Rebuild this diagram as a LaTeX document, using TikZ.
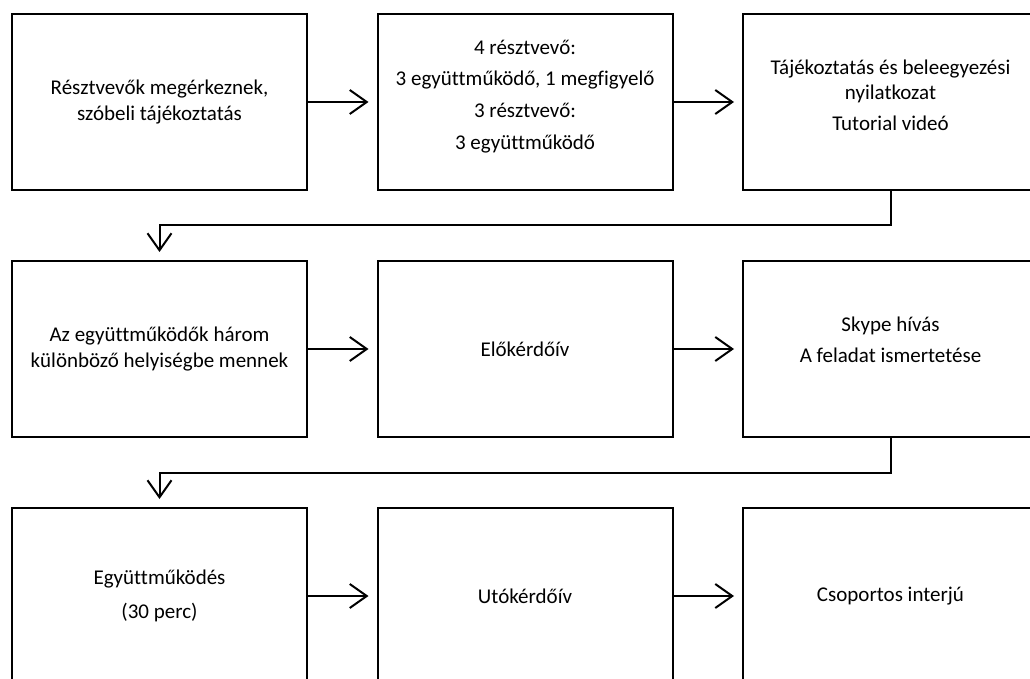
\documentclass[tikz,border=0pt]{standalone}
\usepackage{fontspec}
\setmainfont{Carlito}[Ligatures={NoCommon,NoContextual,NoRequired}]
\usetikzlibrary{arrows.meta,positioning,calc}
\tikzset{
  >={Straight Barb[length=17pt,width=24pt]},
  box/.style={draw=black,line width=2pt,minimum width=295pt,minimum height=176pt,
              align=center,inner sep=4pt,font=\fontsize{21}{25.6}\selectfont},
  ar/.style={->,line width=2pt,shorten >=8pt},
}

\begin{document}
\begin{tikzpicture}[node distance=69pt and 68.5pt]
\useasboundingbox (-159.5pt,102pt) rectangle (870.5pt,-577pt);
% first row
\node[box] (arrive) {Résztvevők megérkeznek,\\szóbeli tájékoztatás};
\node[box,right=of arrive,text depth=15pt] (groups) {4 résztvevő:\\[6pt]3 együttműködő, 1 megfigyelő\\[6pt]3 résztvevő:\\[6pt]3 együttműködő};
\node[box,right=of groups,text depth=14pt] (consent) {Tájékoztatás és beleegyezési\\nyilatkozat\\[5pt]Tutorial videó};
% second row
\node[box,below=of arrive] (rooms) {Az együttműködők három\\különböző helyiségbe mennek};
\node[box,right=of rooms] (pre) {Előkérdőív};
\node[box,right=of pre,text depth=18pt] (skype) {Skype hívás\\[5pt]A feladat ismertetése};
% third row
\node[box,below=of rooms] (work) {Együttműködés\\[9pt](30 perc)};
\node[box,right=of work] (post) {Utókérdőív};
\node[box,right=of post] (interview) {Csoportos interjú};
\coordinate (k1) at ($(consent.south)!.5!(skype.north)$);
\coordinate (k2) at ($(skype.south)!.5!(interview.north)$);
\draw[ar] (arrive) -- (groups); \draw[ar] (groups) -- (consent);
\draw[ar] (rooms) -- (pre); \draw[ar] (pre) -- (skype);
\draw[ar] (work) -- (post); \draw[ar] (post) -- (interview);
\draw[ar] (consent.south) -- (k1) -| (rooms.north);
\draw[ar] (skype.south) -- (k2) -| (work.north);
\end{tikzpicture}
\end{document}
